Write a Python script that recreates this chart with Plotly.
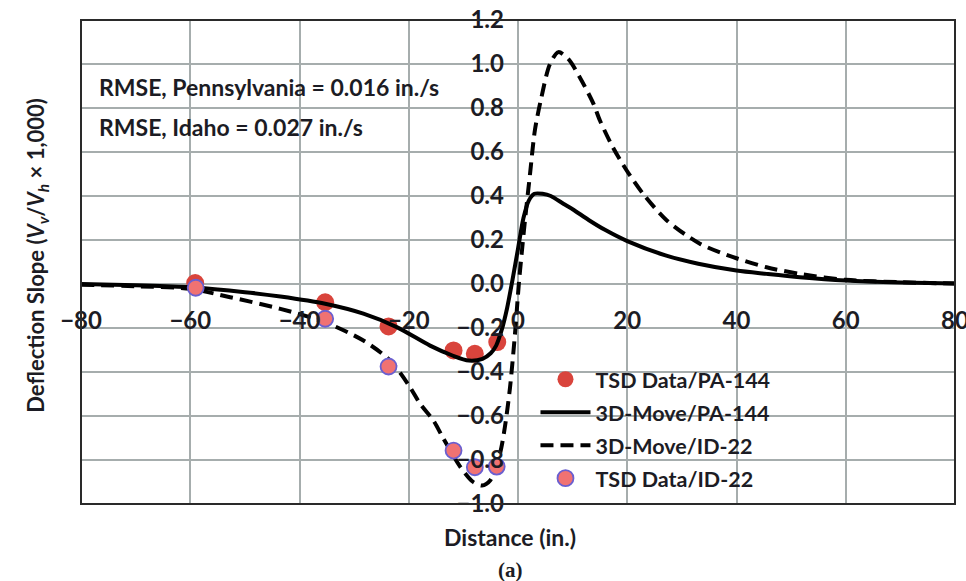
import plotly.graph_objects as go

# TSD measured data
pa_x = [-59.1, -35.3, -23.7, -11.8, -7.9, -3.8]
pa_y = [0.004, -0.083, -0.193, -0.302, -0.317, -0.264]
id_x = [-59.0, -35.3, -23.7, -11.8, -7.9, -3.9]
id_y = [-0.017, -0.158, -0.375, -0.757, -0.833, -0.830]

# 3D-Move/PA-144 (solid)
pa_mx = [-80, -70, -60, -50, -43.5, -35.3, -28.3, -22.2, -16.1, -12, -9, -6.5, -5, -4, -3, -2, -1, 0,
         1, 2, 3, 4.5, 6, 8.3, 10, 13, 16, 20, 27, 33, 40, 45.5, 51.6, 60, 70, 80]
pa_my = [0.0, -0.006, -0.015, -0.037, -0.057, -0.09, -0.135, -0.196, -0.28, -0.325, -0.348, -0.34,
         -0.315, -0.28, -0.21, -0.11, 0.02, 0.16, 0.3, 0.38, 0.41, 0.41, 0.40, 0.365, 0.34, 0.29,
         0.245, 0.195, 0.13, 0.092, 0.061, 0.046, 0.031, 0.016, 0.007, 0.002]

# 3D-Move/ID-22 (dashed)
id_mx = [-80, -70, -60, -52.7, -43.5, -35.3, -28.3, -23.4, -20, -17.9, -15.5, -13.7, -10.6, -8.2,
         -6.6, -5.1, -3.3, -2.4, -1.46, -0.55, 0.15, 0.67, 1.28, 2.2, 3.1, 4.3, 5.85, 7.4, 9.2,
         11.3, 13.8, 15, 17.4, 19.9, 22.9, 27.2, 33.3, 39.4, 45.5, 51.6, 60, 70, 80]
id_my = [-0.003, -0.01, -0.022, -0.06, -0.113, -0.174, -0.257, -0.348, -0.46, -0.545, -0.62, -0.70,
         -0.83, -0.90, -0.916, -0.893, -0.77, -0.65, -0.47, -0.226, 0.0, 0.138, 0.29, 0.50, 0.70,
         0.85, 1.0, 1.054, 1.023, 0.94, 0.82, 0.743, 0.62, 0.516, 0.41, 0.29, 0.183, 0.122, 0.076,
         0.046, 0.019, 0.008, 0.002]

x_ticks = [-80, -60, -40, -20, 0, 20, 40, 60, 80]
y_ticks = [-1.0, -0.8, -0.6, -0.4, -0.2, 0.0, 0.2, 0.4, 0.6, 0.8, 1.0, 1.2]

FONT = "Lato"
TXT = "#1c1c24"

fig = go.Figure()
fig.add_trace(go.Scatter(x=pa_x, y=pa_y, mode="markers", name="TSD Data/PA-144", legendgroup="a",
                         marker=dict(size=18, color="#d9443c", line=dict(width=0))))
fig.add_trace(go.Scatter(x=pa_mx, y=pa_my, mode="lines", name="3D-Move/PA-144", legendgroup="b",
                         line=dict(color="black", width=4, shape="spline", smoothing=0.8)))
fig.add_trace(go.Scatter(x=id_mx, y=id_my, mode="lines", name="3D-Move/ID-22", legendgroup="c",
                         line=dict(color="black", width=4, dash="13px,7px", shape="spline", smoothing=0.8)))
fig.add_trace(go.Scatter(x=id_x, y=id_y, mode="markers", name="TSD Data/ID-22", legendgroup="d",
                         marker=dict(size=16, color="#f07272", line=dict(width=1.8, color="#6a5fd0"))))

fig.update_layout(
    width=966, height=581,
    margin=dict(l=81, r=11, t=20, b=77),
    paper_bgcolor="white", plot_bgcolor="white",
    font=dict(family=FONT, color=TXT),
    showlegend=True,
    legend=dict(x=0.52, y=0.30, xanchor="left", yanchor="top", bgcolor="rgba(0,0,0,0)",
                font=dict(size=21.5, family=FONT, weight="bold", color=TXT),
                itemwidth=50, tracegroupgap=2),
    xaxis=dict(range=[-80, 80], tickvals=x_ticks, showgrid=True, gridcolor="#a6adad", gridwidth=1.5,
               zeroline=False, showline=False, anchor="free", position=(0 - (-1.0)) / 2.2,
               ticks="", ticklabelstandoff=20, automargin=False, ticklabeloverflow="allow",
               tickfont=dict(size=24, family=FONT, weight="bold", color=TXT)),
    yaxis=dict(range=[-1.0, 1.2], tickvals=y_ticks, tickformat=".1f", showgrid=True,
               gridcolor="#a6adad", gridwidth=1.5, zeroline=False, showline=False,
               anchor="free", position=0.5, ticks="", ticklabelstandoff=14, automargin=False,
               ticklabeloverflow="allow",
               tickfont=dict(size=24, family=FONT, weight="bold", color=TXT)),
)

fig.add_shape(type="rect", xref="paper", yref="paper", x0=0, y0=0, x1=1, y1=1,
              line=dict(color="#2a2a2a", width=2))

fig.add_annotation(x=0.018, y=0.8626, xref="paper", yref="paper", xanchor="left", yanchor="middle",
                   text="<b>RMSE, Pennsylvania = 0.016 in./s</b>", showarrow=False,
                   font=dict(size=23, family=FONT, color=TXT))
fig.add_annotation(x=0.018, y=0.778, xref="paper", yref="paper", xanchor="left", yanchor="middle",
                   text="<b>RMSE, Idaho = 0.027 in./s</b>", showarrow=False,
                   font=dict(size=23, family=FONT, color=TXT))
fig.add_annotation(x=0.491, y=-0.069, xref="paper", yref="paper", xanchor="center", yanchor="middle",
                   text="<b>Distance (in.)</b>", showarrow=False,
                   font=dict(size=23, family=FONT, color=TXT))
fig.add_annotation(x=0.491, y=-0.137, xref="paper", yref="paper", xanchor="center", yanchor="middle",
                   text="<b>(a)</b>", showarrow=False,
                   font=dict(size=21, family="Liberation Serif", color=TXT))
fig.add_annotation(x=-0.0503, y=0.513, xref="paper", yref="paper", xanchor="center", yanchor="middle",
                   text="<b>Deflection Slope (<i>V<sub>v</sub></i>/<i>V<sub>h</sub></i> × 1,000)</b>",
                   textangle=-90, showarrow=False,
                   font=dict(size=22, family=FONT, color=TXT))

fig.write_html("out.html")
